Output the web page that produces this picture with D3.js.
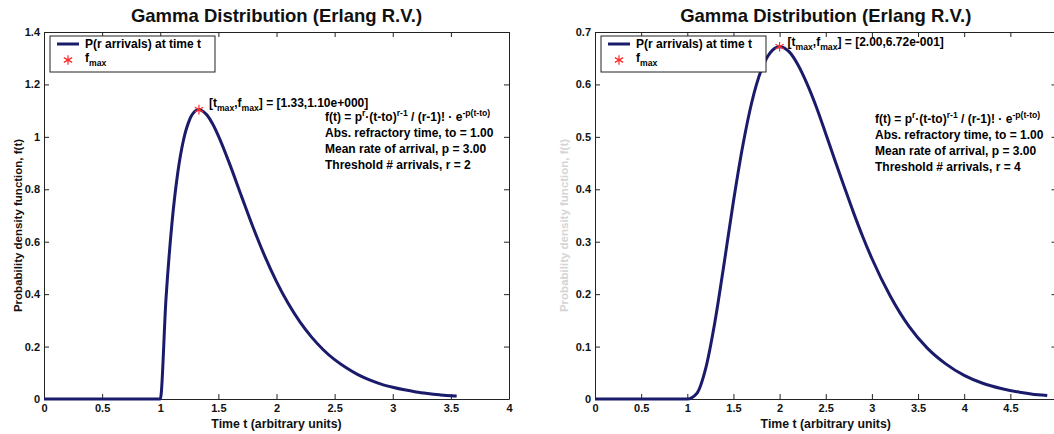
<!DOCTYPE html>
<html>
<head>
<meta charset="utf-8">
<script src="https://cdn.jsdelivr.net/npm/d3@7"></script>
<style>
  body { margin: 0; background: #fff; }
  svg { display: block; font-family: "Liberation Sans", Arial, sans-serif; font-weight: bold; }
</style>
</head>
<body>
<div id="chart"></div>
<script>
// values (Erlang pdf, to = 1, p = 3)
const leftT = [0, 0.5, 1, 1.05, 1.1, 1.15, 1.2, 1.25, 1.3, 1.333, 1.35, 1.4, 1.45, 1.5, 1.6, 1.7, 1.8, 1.9, 2.0,
  2.1, 2.2, 2.3, 2.4, 2.5, 2.6, 2.7, 2.8, 2.9, 3.0, 3.1, 3.2, 3.3, 3.4, 3.5, 3.55];
const leftF = [0, 0, 0, 0.387, 0.667, 0.861, 0.988, 1.063, 1.098, 1.104, 1.102, 1.084, 1.050, 1.004, 0.893, 0.772, 0.653, 0.544, 0.448,
  0.365, 0.295, 0.237, 0.189, 0.150, 0.119, 0.093, 0.073, 0.057, 0.045, 0.035, 0.027, 0.021, 0.016, 0.012, 0.011];

const rightT = [0, 0.5, 1, 1.1, 1.2, 1.3, 1.4, 1.5, 1.6, 1.7, 1.8, 1.9, 2.0, 2.1, 2.2, 2.3, 2.4, 2.5, 2.6, 2.7, 2.8, 2.9, 3.0,
  3.2, 3.4, 3.6, 3.8, 4.0, 4.2, 4.4, 4.6, 4.8, 4.9];
const rightF = [0, 0, 0, 0.010, 0.059, 0.148, 0.260, 0.377, 0.482, 0.567, 0.627, 0.661, 0.672, 0.663, 0.637, 0.600, 0.556, 0.506, 0.455, 0.405, 0.356, 0.310, 0.268,
  0.196, 0.139, 0.097, 0.067, 0.045, 0.030, 0.020, 0.013, 0.008, 0.0066];

const leftXTicks = [0, 0.5, 1, 1.5, 2, 2.5, 3, 3.5, 4];
const leftYTicks = [0, 0.2, 0.4, 0.6, 0.8, 1, 1.2, 1.4];
const rightXTicks = [0, 0.5, 1, 1.5, 2, 2.5, 3, 3.5, 4, 4.5];
const rightYTicks = [0, 0.1, 0.2, 0.3, 0.4, 0.5, 0.6, 0.7];

const leftPeak = [1.333, 1.104];
const rightPeak = [2.0, 0.672];

const titleText = "Gamma Distribution (Erlang R.V.)";
const xLabelText = "Time t (arbitrary units)";
const yLabelText = "Probability density function, f(t)";
const legendText = "P(r arrivals) at time t";

const curveColor = "#1b1b6b";

const svg = d3.select("#chart").append("svg")
  .attr("width", 1054)
  .attr("height", 434);

// text with sub/superscript pieces
function richText(g, x, y, parts, size) {
  const t = g.append("text").attr("x", x).attr("y", y).attr("font-size", size);
  let shift = 0;
  parts.forEach(p => {
    let target = 0;
    if (p.s === "sub") target = 4;
    if (p.s === "sup") target = -5;
    t.append("tspan")
      .attr("dy", target - shift)
      .attr("font-size", p.s ? size * 0.72 : size)
      .text(p.t);
    shift = target;
  });
  return t;
}

function drawPanel(cfg) {
  const x = d3.scaleLinear().domain(cfg.xDomain).range([cfg.left, cfg.right]);
  const y = d3.scaleLinear().domain(cfg.yDomain).range([cfg.bottom, cfg.top]);
  const g = svg.append("g");

  // axes, ticks pointing inward
  g.append("g").attr("transform", `translate(0,${cfg.bottom})`)
    .call(d3.axisBottom(x).tickValues(cfg.xTicks).tickSizeInner(-5).tickSizeOuter(0).tickPadding(5).tickFormat(d => d))
    .call(a => a.selectAll("text").attr("font-size", 11).attr("font-family", null).attr("fill", "#111"));
  g.append("g").attr("transform", `translate(0,${cfg.top})`)
    .call(d3.axisTop(x).tickValues(cfg.xTicks).tickSizeInner(-5).tickSizeOuter(0).tickFormat(""));
  g.append("g").attr("transform", `translate(${cfg.left},0)`)
    .call(d3.axisLeft(y).tickValues(cfg.yTicks).tickSizeInner(-5).tickSizeOuter(0).tickPadding(4).tickFormat(d => d))
    .call(a => a.selectAll("text").attr("font-size", 11).attr("font-family", null).attr("fill", "#111"));
  g.append("g").attr("transform", `translate(${cfg.right},0)`)
    .call(d3.axisRight(y).tickValues(cfg.yTicks).tickSizeInner(-5).tickSizeOuter(0).tickFormat(""));
  g.selectAll(".domain").attr("stroke", "#222");
  g.selectAll(".tick line").attr("stroke", "#222");

  // curve
  const pts = cfg.t.map((t, i) => [t, cfg.f[i]]);
  g.append("path")
    .datum(pts)
    .attr("fill", "none")
    .attr("stroke", curveColor)
    .attr("stroke-width", 3)
    .attr("stroke-linejoin", "round")
    .attr("d", d3.line().x(d => x(d[0])).y(d => y(d[1])).curve(d3.curveMonotoneX));

  // peak marker
  const star = d3.symbol(d3.symbolAsterisk || d3.symbolCross, 64);
  g.append("path")
    .attr("transform", `translate(${x(cfg.peak[0])},${y(cfg.peak[1])})`)
    .attr("d", star())
    .attr("fill", "none")
    .attr("stroke", "#ff2a2a")
    .attr("stroke-width", 1.2);

  richText(g, x(cfg.peak[0]) + cfg.peakDx, y(cfg.peak[1]) + cfg.peakDy, [
    { t: "[t" }, { t: "max", s: "sub" }, { t: ",f" }, { t: "max", s: "sub" }, { t: "] = " + cfg.peakLabel }
  ], 12);

  // parameter block
  const bx = cfg.blockX, by = cfg.blockY;
  richText(g, bx, by, [
    { t: "f(t) = p" }, { t: "r", s: "sup" }, { t: "·(t-to)" }, { t: "r-1", s: "sup" },
    { t: " / (r-1)! · e" }, { t: "-p(t-to)", s: "sup" }
  ], 12);
  cfg.lines.forEach((l, i) => {
    g.append("text").attr("x", bx).attr("y", by + 16 * (i + 1)).attr("font-size", 12).text(l);
  });

  // title and labels
  const cx = (cfg.left + cfg.right) / 2;
  g.append("text").attr("x", cx).attr("y", 22).attr("text-anchor", "middle")
    .attr("font-size", 18.5).attr("fill", "#111").text(titleText);
  g.append("text").attr("x", cx).attr("y", 428).attr("text-anchor", "middle")
    .attr("font-size", 12.3).attr("fill", "#111").text(xLabelText);
  g.append("text")
    .attr("transform", `translate(${cfg.yLabelX},${(cfg.top + cfg.bottom) / 2 + 10}) rotate(-90)`)
    .attr("text-anchor", "middle")
    .attr("font-size", 11.5)
    .attr("fill", cfg.yLabelColor)
    .text(yLabelText);

  // legend
  const lx = cfg.left + 6, ly = 36;
  g.append("rect").attr("x", lx).attr("y", ly).attr("width", 165).attr("height", 36)
    .attr("fill", "#fff").attr("stroke", "#222").attr("stroke-width", 1);
  g.append("line").attr("x1", lx + 7).attr("x2", lx + 29).attr("y1", ly + 8).attr("y2", ly + 8)
    .attr("stroke", curveColor).attr("stroke-width", 3);
  g.append("text").attr("x", lx + 35).attr("y", ly + 12).attr("font-size", 12).text(legendText);
  g.append("path")
    .attr("transform", `translate(${lx + 18},${ly + 24})`)
    .attr("d", star())
    .attr("fill", "none")
    .attr("stroke", "#ff2a2a")
    .attr("stroke-width", 1.2);
  richText(g, lx + 35, ly + 26, [{ t: "f" }, { t: "max", s: "sub" }], 12);
}

drawPanel({
  xDomain: [0, 4], yDomain: [0, 1.4],
  left: 44, right: 509, top: 32, bottom: 399,
  xTicks: leftXTicks, yTicks: leftYTicks,
  t: leftT, f: leftF, peak: leftPeak,
  peakDx: 10, peakDy: -3, peakLabel: "[1.33,1.10e+000]",
  blockX: 325, blockY: 121,
  lines: ["Abs. refractory time, to = 1.00", "Mean rate of arrival, p = 3.00", "Threshold # arrivals, r = 2"],
  yLabelX: 22, yLabelColor: "#111"
});

drawPanel({
  xDomain: [0, 5], yDomain: [0, 0.7],
  left: 595, right: 1056.5, top: 32, bottom: 399,
  xTicks: rightXTicks, yTicks: rightYTicks,
  t: rightT, f: rightF, peak: rightPeak,
  peakDx: 8, peakDy: -1, peakLabel: "[2.00,6.72e-001]",
  blockX: 875, blockY: 123,
  lines: ["Abs. refractory time, to = 1.00", "Mean rate of arrival, p = 3.00", "Threshold # arrivals, r = 4"],
  yLabelX: 568, yLabelColor: "#d4d4d4"
});
</script>
</body>
</html>
